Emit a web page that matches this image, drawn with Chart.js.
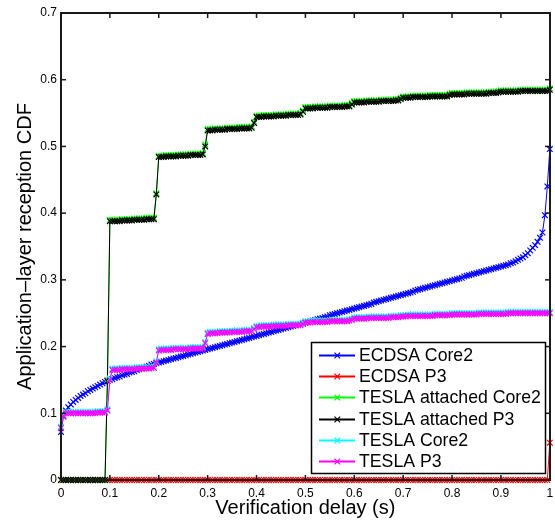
<!DOCTYPE html>
<html>
<head>
<meta charset="utf-8">
<script src="https://cdn.jsdelivr.net/npm/chart.js"></script>
<style>
  body { margin: 0; background: #fff; }
  canvas { display: block; }
</style>
</head>
<body>
<canvas id="myChart" width="555" height="520"></canvas>
<script>
// delai de verification (s), un point tous les 0.005
var delays = [
  0,0.005,0.01,0.015,0.02,0.025,0.03,0.035,0.04,0.045,0.05,0.055,0.06,0.065,0.07,0.075,0.08,0.085,0.09,0.095,
  0.1,0.105,0.11,0.115,0.12,0.125,0.13,0.135,0.14,0.145,0.15,0.155,0.16,0.165,0.17,0.175,0.18,0.185,0.19,0.195,
  0.2,0.205,0.21,0.215,0.22,0.225,0.23,0.235,0.24,0.245,0.25,0.255,0.26,0.265,0.27,0.275,0.28,0.285,0.29,0.295,
  0.3,0.305,0.31,0.315,0.32,0.325,0.33,0.335,0.34,0.345,0.35,0.355,0.36,0.365,0.37,0.375,0.38,0.385,0.39,0.395,
  0.4,0.405,0.41,0.415,0.42,0.425,0.43,0.435,0.44,0.445,0.45,0.455,0.46,0.465,0.47,0.475,0.48,0.485,0.49,0.495,
  0.5,0.505,0.51,0.515,0.52,0.525,0.53,0.535,0.54,0.545,0.55,0.555,0.56,0.565,0.57,0.575,0.58,0.585,0.59,0.595,
  0.6,0.605,0.61,0.615,0.62,0.625,0.63,0.635,0.64,0.645,0.65,0.655,0.66,0.665,0.67,0.675,0.68,0.685,0.69,0.695,
  0.7,0.705,0.71,0.715,0.72,0.725,0.73,0.735,0.74,0.745,0.75,0.755,0.76,0.765,0.77,0.775,0.78,0.785,0.79,0.795,
  0.8,0.805,0.81,0.815,0.82,0.825,0.83,0.835,0.84,0.845,0.85,0.855,0.86,0.865,0.87,0.875,0.88,0.885,0.89,0.895,
  0.9,0.905,0.91,0.915,0.92,0.925,0.93,0.935,0.94,0.945,0.95,0.955,0.96,0.965,0.97,0.975,0.98,0.985,0.99,0.995,
  1
];

var ecdsaCore2 = [
  0.072,0.095,0.104,0.109,0.113,0.117,0.12,0.123,0.126,0.128,0.13,0.133,0.135,0.137,0.139,0.141,0.143,0.145,0.147,0.148,
  0.15,0.151,0.153,0.154,0.155,0.157,0.158,0.159,0.161,0.162,0.163,0.165,0.166,0.167,0.169,0.17,0.171,0.173,0.174,0.175,
  0.176,0.177,0.178,0.179,0.18,0.181,0.182,0.183,0.184,0.185,0.186,0.187,0.188,0.189,0.19,0.191,0.192,0.193,0.194,0.195,
  0.196,0.197,0.198,0.199,0.2,0.201,0.202,0.203,0.204,0.205,0.206,0.207,0.208,0.209,0.21,0.211,0.212,0.213,0.214,0.215,
  0.216,0.217,0.218,0.219,0.22,0.221,0.222,0.223,0.224,0.225,0.226,0.227,0.228,0.229,0.23,0.231,0.232,0.233,0.234,0.235,
  0.236,0.237,0.238,0.239,0.24,0.241,0.242,0.243,0.244,0.245,0.247,0.248,0.249,0.25,0.251,0.252,0.253,0.254,0.255,0.256,
  0.257,0.258,0.259,0.26,0.261,0.262,0.263,0.264,0.266,0.267,0.268,0.269,0.27,0.271,0.272,0.273,0.274,0.275,0.276,0.277,
  0.278,0.279,0.28,0.281,0.282,0.284,0.285,0.286,0.287,0.288,0.289,0.29,0.291,0.292,0.293,0.294,0.295,0.296,0.297,0.298,
  0.299,0.3,0.301,0.302,0.303,0.305,0.306,0.307,0.308,0.309,0.31,0.311,0.312,0.313,0.314,0.315,0.316,0.317,0.318,0.319,
  0.32,0.321,0.322,0.323,0.325,0.326,0.328,0.33,0.332,0.334,0.337,0.34,0.344,0.348,0.352,0.357,0.363,0.371,0.397,0.44,
  0.496
];

var ecdsaP3 = [
  0,0,0,0,0,0,0,0,0,0,0,0,0,0,0,0,0,0,0,0,
  0,0,0,0,0,0,0,0,0,0,0,0,0,0,0,0,0,0,0,0,
  0,0,0,0,0,0,0,0,0,0,0,0,0,0,0,0,0,0,0,0,
  0,0,0,0,0,0,0,0,0,0,0,0,0,0,0,0,0,0,0,0,
  0,0,0,0,0,0,0,0,0,0,0,0,0,0,0,0,0,0,0,0,
  0,0,0,0,0,0,0,0,0,0,0,0,0,0,0,0,0,0,0,0,
  0,0,0,0,0,0,0,0,0,0,0,0,0,0,0,0,0,0,0,0,
  0,0,0,0,0,0,0,0,0,0,0,0,0,0,0,0,0,0,0,0,
  0,0,0,0,0,0,0,0,0,0,0,0,0,0,0,0,0,0,0,0,
  0,0,0,0,0,0,0,0,0,0,0,0,0,0,0,0,0,0,0,0,
  0.056
];

var teslaAttCore2 = [
  0,0,0,0,0,0,0,0,0,0,0,0,0,0,0,0,0,0,0,0.15,
  0.39,0.39,0.39,0.39,0.39,0.391,0.391,0.391,0.391,0.391,0.392,0.392,0.392,0.392,0.392,0.393,0.393,0.393,0.393,0.43,
  0.486,0.486,0.486,0.487,0.487,0.487,0.487,0.487,0.488,0.488,0.488,0.488,0.488,0.489,0.489,0.489,0.489,0.489,0.49,0.503,
  0.526,0.526,0.526,0.527,0.527,0.527,0.527,0.527,0.528,0.528,0.528,0.528,0.528,0.529,0.529,0.529,0.529,0.529,0.53,0.537,
  0.546,0.546,0.546,0.547,0.547,0.547,0.547,0.547,0.548,0.548,0.548,0.548,0.548,0.549,0.549,0.549,0.549,0.549,0.55,0.554,
  0.559,0.559,0.559,0.559,0.56,0.56,0.56,0.56,0.56,0.56,0.561,0.561,0.561,0.561,0.561,0.561,0.562,0.562,0.562,0.565,
  0.568,0.568,0.568,0.568,0.568,0.569,0.569,0.569,0.569,0.569,0.569,0.57,0.57,0.57,0.57,0.57,0.57,0.571,0.571,0.573,
  0.575,0.575,0.575,0.575,0.576,0.576,0.576,0.576,0.576,0.576,0.576,0.577,0.577,0.577,0.577,0.577,0.577,0.577,0.577,0.579,
  0.58,0.58,0.58,0.58,0.58,0.58,0.581,0.581,0.581,0.581,0.581,0.581,0.581,0.581,0.581,0.582,0.582,0.582,0.582,0.583,
  0.584,0.584,0.584,0.584,0.584,0.584,0.584,0.584,0.585,0.585,0.585,0.585,0.585,0.585,0.585,0.585,0.585,0.585,0.585,0.585,
  0.587
];

var teslaAttP3 = [
  0,0,0,0,0,0,0,0,0,0,0,0,0,0,0,0,0,0,0,0.148,
  0.388,0.388,0.388,0.388,0.388,0.389,0.389,0.389,0.389,0.389,0.39,0.39,0.39,0.39,0.39,0.391,0.391,0.391,0.391,0.428,
  0.484,0.484,0.484,0.485,0.485,0.485,0.485,0.485,0.486,0.486,0.486,0.486,0.486,0.487,0.487,0.487,0.487,0.487,0.488,0.5,
  0.524,0.524,0.524,0.525,0.525,0.525,0.525,0.525,0.526,0.526,0.526,0.526,0.526,0.527,0.527,0.527,0.527,0.527,0.528,0.535,
  0.544,0.544,0.544,0.545,0.545,0.545,0.545,0.545,0.546,0.546,0.546,0.546,0.546,0.547,0.547,0.547,0.547,0.547,0.548,0.552,
  0.557,0.557,0.557,0.557,0.558,0.558,0.558,0.558,0.558,0.558,0.559,0.559,0.559,0.559,0.559,0.559,0.56,0.56,0.56,0.563,
  0.566,0.566,0.566,0.566,0.566,0.567,0.567,0.567,0.567,0.567,0.567,0.568,0.568,0.568,0.568,0.568,0.568,0.569,0.569,0.571,
  0.573,0.573,0.573,0.573,0.574,0.574,0.574,0.574,0.574,0.574,0.574,0.575,0.575,0.575,0.575,0.575,0.575,0.575,0.575,0.577,
  0.578,0.578,0.578,0.578,0.578,0.578,0.579,0.579,0.579,0.579,0.579,0.579,0.579,0.579,0.579,0.58,0.58,0.58,0.58,0.581,
  0.582,0.582,0.582,0.582,0.582,0.582,0.582,0.582,0.583,0.583,0.583,0.583,0.583,0.583,0.583,0.583,0.583,0.583,0.583,0.583,
  0.585
];

var teslaCore2 = [
  0.08,0.098,0.102,0.102,0.102,0.102,0.102,0.102,0.102,0.102,0.102,0.102,0.102,0.102,0.102,0.103,0.103,0.103,0.103,0.106,
  0.152,0.167,0.167,0.167,0.167,0.168,0.168,0.168,0.168,0.168,0.168,0.169,0.169,0.169,0.169,0.169,0.169,0.17,0.17,0.178,
  0.196,0.197,0.197,0.197,0.197,0.197,0.198,0.198,0.198,0.198,0.198,0.198,0.198,0.199,0.199,0.199,0.199,0.199,0.199,0.207,
  0.221,0.222,0.222,0.222,0.222,0.223,0.223,0.223,0.223,0.223,0.224,0.224,0.224,0.224,0.224,0.225,0.225,0.225,0.225,0.228,
  0.231,0.231,0.232,0.232,0.232,0.232,0.232,0.233,0.233,0.233,0.233,0.233,0.233,0.234,0.234,0.234,0.234,0.234,0.234,0.236,
  0.238,0.238,0.238,0.239,0.239,0.239,0.239,0.239,0.239,0.239,0.24,0.24,0.24,0.24,0.24,0.24,0.24,0.24,0.241,0.242,
  0.244,0.244,0.244,0.244,0.244,0.244,0.245,0.245,0.245,0.245,0.245,0.245,0.245,0.245,0.245,0.246,0.246,0.246,0.246,0.247,
  0.247,0.247,0.248,0.248,0.248,0.248,0.248,0.248,0.248,0.248,0.248,0.248,0.248,0.249,0.249,0.249,0.249,0.249,0.249,0.249,
  0.25,0.25,0.25,0.25,0.25,0.25,0.25,0.25,0.25,0.25,0.25,0.251,0.251,0.251,0.251,0.251,0.251,0.251,0.251,0.251,
  0.251,0.251,0.251,0.252,0.252,0.252,0.252,0.252,0.252,0.252,0.252,0.252,0.252,0.252,0.252,0.252,0.252,0.252,0.252,0.252,
  0.252
];

var teslaP3 = [
  0.078,0.096,0.1,0.1,0.1,0.1,0.1,0.1,0.1,0.1,0.1,0.1,0.1,0.1,0.1,0.101,0.101,0.101,0.101,0.104,
  0.15,0.165,0.165,0.165,0.165,0.166,0.166,0.166,0.166,0.166,0.166,0.167,0.167,0.167,0.167,0.167,0.167,0.168,0.168,0.176,
  0.194,0.195,0.195,0.195,0.195,0.195,0.196,0.196,0.196,0.196,0.196,0.196,0.196,0.197,0.197,0.197,0.197,0.197,0.197,0.205,
  0.219,0.22,0.22,0.22,0.22,0.221,0.221,0.221,0.221,0.221,0.222,0.222,0.222,0.222,0.222,0.223,0.223,0.223,0.223,0.226,
  0.229,0.229,0.23,0.23,0.23,0.23,0.23,0.231,0.231,0.231,0.231,0.231,0.231,0.232,0.232,0.232,0.232,0.232,0.232,0.234,
  0.236,0.236,0.236,0.237,0.237,0.237,0.237,0.237,0.237,0.237,0.238,0.238,0.238,0.238,0.238,0.238,0.238,0.238,0.239,0.24,
  0.242,0.242,0.242,0.242,0.242,0.242,0.243,0.243,0.243,0.243,0.243,0.243,0.243,0.243,0.243,0.244,0.244,0.244,0.244,0.245,
  0.245,0.245,0.246,0.246,0.246,0.246,0.246,0.246,0.246,0.246,0.246,0.246,0.246,0.247,0.247,0.247,0.247,0.247,0.247,0.247,
  0.248,0.248,0.248,0.248,0.248,0.248,0.248,0.248,0.248,0.248,0.248,0.249,0.249,0.249,0.249,0.249,0.249,0.249,0.249,0.249,
  0.249,0.249,0.249,0.25,0.25,0.25,0.25,0.25,0.25,0.25,0.25,0.25,0.25,0.25,0.25,0.25,0.25,0.25,0.25,0.25,
  0.25
];

var noms = ['ECDSA Core2', 'ECDSA P3', 'TESLA attached Core2', 'TESLA attached P3', 'TESLA Core2', 'TESLA P3'];
var series = [ecdsaCore2, ecdsaP3, teslaAttCore2, teslaAttP3, teslaCore2, teslaP3];
var couleurs = ['#0000ff', '#ff0000', '#00ff00', '#000000', '#00ffff', '#ff00ff'];

var xTicks = ['0', '0.1', '0.2', '0.3', '0.4', '0.5', '0.6', '0.7', '0.8', '0.9', '1'];
var yTicks = ['0', '0.1', '0.2', '0.3', '0.4', '0.5', '0.6', '0.7'];

var police = '"Liberation Sans", Arial, Helvetica, sans-serif';
Chart.defaults.font.family = police;
Chart.defaults.color = '#000';

function points(valeurs) {
    return valeurs.map(function(v, i) {
        return { x: delays[i], y: v };
    });
}

var datasets = series.map(function(valeurs, i) {
    return {
        label: noms[i],
        data: points(valeurs),
        borderColor: couleurs[i],
        backgroundColor: couleurs[i],
        borderWidth: 1,
        pointStyle: 'crossRot',
        pointRadius: 4,
        pointBorderWidth: 1.2,
        pointHoverRadius: 4,
        tension: 0,
        fill: false,
        clip: false,
        order: series.length - i   // le dernier trace passe dessus, comme dans matlab
    };
});

// cadre + graduations vers l'interieur, puis legende en bas a droite
var habillage = {
    id: 'habillage',
    afterDraw: function(chart) {
        var ctx = chart.ctx;
        var a = chart.chartArea;
        var sx = chart.scales.x, sy = chart.scales.y;
        var lg = 5;
        var gauche = Math.round(a.left), droite = Math.round(a.right);
        var haut = Math.round(a.top), bas = Math.round(a.bottom);

        ctx.save();
        ctx.fillStyle = '#1a1a1a';
        // cadre de 2px
        ctx.fillRect(gauche - 1, haut - 1, droite - gauche + 2, 2);
        ctx.fillRect(gauche - 1, bas - 1, droite - gauche + 2, 2);
        ctx.fillRect(gauche - 1, haut - 1, 2, bas - haut + 2);
        ctx.fillRect(droite - 1, haut - 1, 2, bas - haut + 2);
        // graduations
        sx.ticks.forEach(function(t) {
            var px = sx.getPixelForValue(t.value);
            ctx.fillRect(px - 0.75, bas - lg, 1.5, lg);
            ctx.fillRect(px - 0.75, haut, 1.5, lg);
        });
        sy.ticks.forEach(function(t) {
            var py = sy.getPixelForValue(t.value);
            ctx.fillRect(gauche, py - 0.75, lg, 1.5);
            ctx.fillRect(droite - lg, py - 0.75, lg, 1.5);
        });

        // legende
        var x0 = 311, y0 = 342, w = 234, h = 131;
        ctx.fillStyle = '#fff';
        ctx.fillRect(x0, y0, w, h);
        ctx.strokeStyle = '#000';
        ctx.lineWidth = 1.5;
        ctx.strokeRect(x0 + 0.5, y0 + 0.5, w, h);
        ctx.font = '17.7px ' + police;
        ctx.textBaseline = 'middle';
        chart.data.datasets.forEach(function(ds, i) {
            var y = Math.round(y0 + 13 + i * 21.2) + 0.5;
            ctx.strokeStyle = ds.borderColor;
            ctx.lineWidth = 1.8;
            ctx.beginPath();
            ctx.moveTo(319, y); ctx.lineTo(355, y);
            ctx.stroke();
            ctx.lineWidth = 1.2;
            ctx.beginPath();
            ctx.moveTo(334.5, y - 2.8); ctx.lineTo(340.1, y + 2.8);
            ctx.moveTo(334.5, y + 2.8); ctx.lineTo(340.1, y - 2.8);
            ctx.stroke();
            ctx.fillStyle = '#000';
            ctx.fillText(ds.label, 359, y + 1);
        });
        ctx.restore();
    }
};

var myChart = document.getElementById('myChart').getContext('2d');

var cdfChart = new Chart(myChart, {
    type: 'line',
    data: { datasets: datasets },
    options: {
        responsive: false,
        animation: false,
        events: [],
        layout: { padding: { top: 13, right: 3, left: 0, bottom: 0 } },
        plugins: {
            legend: { display: false },
            tooltip: { enabled: false }
        },
        scales: {
            x: {
                type: 'linear',
                min: 0,
                max: 1,
                grid: { display: false, drawTicks: false },
                border: { display: false },
                ticks: {
                    stepSize: 0.1,
                    padding: 6,
                    maxRotation: 0,
                    font: { size: 12 },
                    callback: function(v, i) { return xTicks[i]; }
                },
                title: {
                    display: true,
                    text: 'Verification delay (s)',
                    font: { size: 20 },
                    padding: { top: 0, bottom: 0 }
                },
                afterFit: function(s) {
                    s.height = 40;
                    s.paddingLeft = 0;
                    s.paddingRight = 0;
                }
            },
            y: {
                type: 'linear',
                min: 0,
                max: 0.7,
                grid: { display: false, drawTicks: false },
                border: { display: false },
                ticks: {
                    stepSize: 0.1,
                    padding: 4,
                    font: { size: 12 },
                    callback: function(v, i) { return yTicks[i]; }
                },
                title: {
                    display: true,
                    text: 'Application–layer reception CDF',
                    font: { size: 20 },
                    padding: { top: 13, bottom: 0 }
                },
                afterFit: function(s) { s.width = 61; }
            }
        }
    },
    plugins: [habillage]
});
</script>
</body>
</html>
